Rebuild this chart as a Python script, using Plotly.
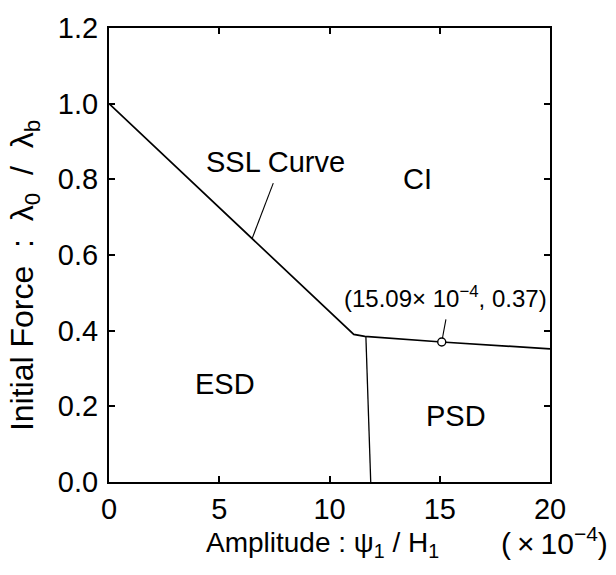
import plotly.graph_objects as go

# boundary curve (SSL curve + CI/PSD boundary)
boundary_x = [0, 11.1, 11.6, 15.09, 20]
boundary_y = [1.0, 0.39, 0.385, 0.37, 0.352]
# ESD / PSD boundary
split_x = [11.65, 11.87]
split_y = [0.385, 0.0]
# marked point
point_x = [15.09]
point_y = [0.37]
# leader lines for labels
ssl_leader_x = [7.45, 6.5]
ssl_leader_y = [0.79, 0.645]
pt_leader_x = [15.28, 15.09]
pt_leader_y = [0.43, 0.37]

x_ticks = [0, 5, 10, 15, 20]
y_ticks = [0.0, 0.2, 0.4, 0.6, 0.8, 1.0, 1.2]

FONT = "Liberation Sans, Arial, Helvetica, sans-serif"

fig = go.Figure()
fig.add_trace(go.Scatter(x=boundary_x, y=boundary_y, mode="lines", line=dict(color="black", width=1.7), showlegend=False))
fig.add_trace(go.Scatter(x=split_x, y=split_y, mode="lines", line=dict(color="black", width=1.3), showlegend=False))
fig.add_trace(go.Scatter(x=ssl_leader_x, y=ssl_leader_y, mode="lines", line=dict(color="black", width=1.1), showlegend=False))
fig.add_trace(go.Scatter(x=pt_leader_x, y=pt_leader_y, mode="lines", line=dict(color="black", width=1.1), showlegend=False))
fig.add_trace(go.Scatter(x=point_x, y=point_y, mode="markers",
                         marker=dict(symbol="circle", size=8, color="white", line=dict(color="black", width=1.4)),
                         showlegend=False))

labels = [
    (7.53, 0.846, "SSL Curve", 29),
    (14.0, 0.80, "CI", 29),
    (5.26, 0.26, "ESD", 29),
    (15.74, 0.175, "PSD", 29),
    (15.28, 0.49, "(15.09\u00d7 10<sup>\u22124</sup>, 0.37)", 24),
]
for x, y, t, s in labels:
    fig.add_annotation(x=x, y=y, text=t, showarrow=False, font=dict(size=s, color="black", family=FONT))

# axis titles
fig.add_annotation(xref="paper", yref="paper", x=0.483, y=-0.137, xanchor="center", yanchor="middle",
                   text="Amplitude : \u03c8<sub>1</sub> / H<sub>1</sub>", showarrow=False,
                   font=dict(size=28, color="black", family=FONT))
fig.add_annotation(xref="paper", yref="paper", x=1.011, y=-0.131, xanchor="center", yanchor="middle",
                   text="(\u2009\u00d7\u200910<sup>\u22124</sup>)", showarrow=False,
                   font=dict(size=30, color="black", family=FONT))
fig.add_annotation(xref="paper", yref="paper", x=-0.19, y=0.454, xanchor="center", yanchor="middle",
                   text="Initial Force\u00a0\u00a0:\u00a0\u00a0\u03bb<sub>0</sub>\u00a0\u00a0/\u00a0\u00a0\u03bb<sub>b</sub>",
                   showarrow=False, textangle=-90,
                   font=dict(size=32, color="black", family=FONT))

axis_common = dict(showgrid=False, zeroline=False, showline=True, linecolor="black", linewidth=2,
                   mirror="ticks", ticks="inside", ticklen=6, tickwidth=1.5, tickcolor="black",
                   tickfont=dict(size=29, color="black", family=FONT))
fig.update_xaxes(range=[0, 20], tickvals=x_ticks, ticktext=[str(v) for v in x_ticks], **axis_common)
fig.update_yaxes(range=[0, 1.2], tickvals=y_ticks, ticktext=[f"{v:.1f}" for v in y_ticks],
                 ticklabelstandoff=3, **axis_common)

fig.update_layout(width=616, height=575, margin=dict(l=109, r=66, t=21, b=93),
                  plot_bgcolor="white", paper_bgcolor="white", font=dict(family=FONT, color="black"))
fig.write_html("out.html")
